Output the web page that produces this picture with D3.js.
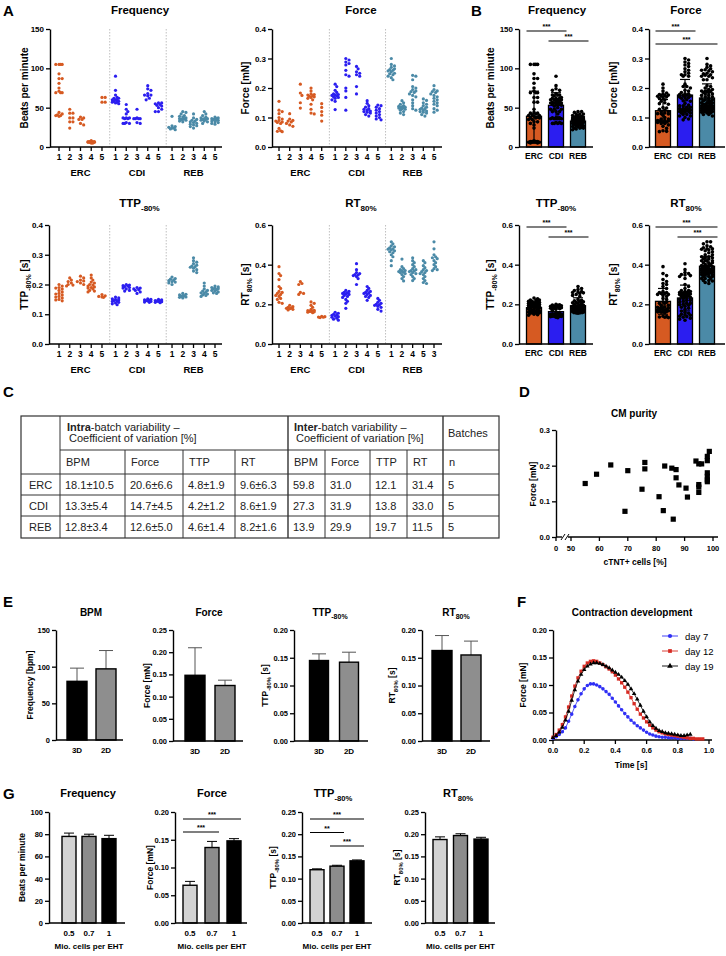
<!DOCTYPE html>
<html><head><meta charset="utf-8">
<script src="https://cdn.jsdelivr.net/npm/d3@7"></script>
<style>body{margin:0;background:#fff}svg{display:block}</style>
</head><body><svg id="c" width="726" height="956"></svg>
<script>
const FONT = '"Liberation Sans", Arial, Helvetica, sans-serif';

// ---------------- DATA ----------------
const groups = ["ERC", "CDI", "REB"];
const sampleLabels = [["1","2","3","4","5"],["1","2","3","4","5"],["1","2","3","4","5"]];
const rtSampleLabels = [["1","2","3","4","5"],["1","2","3","4","5"],["1","2","4","5","3"]];
const groupColors = ["#d65a22", "#2b1ef0", "#4b8aa7"];

// Panel A - per batch values
const freqERC = [[105,105,105,105,93,87,87,81,75,71,69,69,69,44,42,41,40,40,39],[48,43,43,37,37,32,32,24],[38,37,35,35,30,28],[8,7,7,7,6,6,6,6,5,5,6,7],[63,63,57,57]];
const freqCDI = [[90,72,66,63,62,60,60,58,58,57,57,56,55,60,62],[54,48,45,42,37,37,37,36,36,31,30,30,30],[48,37,36,36,36,36,31,30],[78,74,72,68,66,66,65,62,60],[56,56,55,54,53,52,50,48,45,45]];
const freqREB = [[39,27,26,25,24,24,23,22],[45,44,42,40,39,38,37,36,36,35,35,34,33,32],[42,37,35,34,33,32,31,30,29,28,27,26,24],[45,42,40,38,37,36,36,35,35,34,33,32,30],[38,37,36,36,35,35,34,34,33,32,31,30,29]];

const forceERC = [[0.155,0.125,0.12,0.113,0.10,0.095,0.09,0.088,0.085,0.083,0.08,0.063,0.055,0.053,0.052],[0.113,0.095,0.09,0.088,0.085,0.08,0.075,0.07],[0.213,0.183,0.175,0.15,0.132],[0.2,0.19,0.18,0.178,0.176,0.174,0.172,0.17,0.168,0.165,0.16,0.145,0.128,0.115,0.112],[0.147,0.134,0.12,0.108,0.088]];
const forceCDI = [[0.213,0.205,0.192,0.185,0.18,0.178,0.176,0.175,0.173,0.17,0.168,0.165,0.16,0.155,0.127],[0.3,0.295,0.288,0.283,0.278,0.26,0.245,0.24,0.2,0.19,0.168,0.125],[0.273,0.265,0.255,0.25,0.245,0.24,0.205,0.18],[0.157,0.148,0.14,0.135,0.13,0.128,0.125,0.122,0.12,0.118,0.115,0.11,0.105],[0.142,0.14,0.135,0.13,0.125,0.12,0.115,0.11,0.105,0.1,0.095,0.092]];
const forceREB = [[0.3,0.28,0.275,0.27,0.265,0.262,0.26,0.258,0.255,0.25,0.248,0.245,0.24,0.235,0.228],[0.157,0.15,0.145,0.14,0.138,0.136,0.135,0.134,0.133,0.132,0.13,0.128,0.125,0.12,0.115,0.11],[0.243,0.24,0.228,0.205,0.2,0.195,0.19,0.188,0.185,0.18,0.175,0.17,0.16,0.15,0.14,0.13,0.125],[0.163,0.158,0.15,0.145,0.14,0.135,0.132,0.13,0.128,0.125,0.122,0.12,0.118,0.115,0.11,0.105],[0.208,0.195,0.19,0.188,0.185,0.18,0.175,0.17,0.165,0.16,0.155,0.15,0.145,0.14,0.13,0.125,0.118]];

const ttpERC = [[0.2,0.195,0.19,0.188,0.185,0.18,0.175,0.17,0.168,0.165,0.16,0.158,0.155,0.15,0.148,0.145],[0.222,0.215,0.21,0.205,0.2,0.198,0.195],[0.228,0.222,0.215,0.212,0.21,0.205,0.2],[0.232,0.222,0.215,0.208,0.205,0.2,0.198,0.195,0.192,0.19,0.188,0.185,0.18,0.178,0.175],[0.166,0.162,0.16,0.158,0.157]];
const ttpCDI = [[0.158,0.155,0.152,0.15,0.148,0.146,0.145,0.143,0.14,0.138,0.135,0.132],[0.2,0.198,0.196,0.195,0.193,0.19,0.188,0.185,0.18,0.178],[0.19,0.188,0.185,0.183,0.18,0.175,0.17],[0.152,0.15,0.148,0.147,0.146,0.145,0.143,0.141,0.14],[0.15,0.148,0.146,0.145,0.144,0.143,0.142,0.14,0.139]];
const ttpREB = [[0.225,0.22,0.218,0.215,0.213,0.21,0.208,0.205,0.2],[0.17,0.167,0.165,0.163,0.162,0.16,0.158,0.157,0.155],[0.29,0.28,0.275,0.27,0.265,0.262,0.26,0.258,0.255,0.25,0.245,0.24],[0.205,0.195,0.185,0.18,0.178,0.175,0.172,0.17,0.168,0.165,0.163,0.16],[0.195,0.192,0.19,0.188,0.186,0.185,0.183,0.18,0.178,0.175,0.172,0.17]];

const rtERC = [[0.39,0.355,0.345,0.325,0.29,0.28,0.265,0.26,0.255,0.25,0.245,0.24,0.23,0.225,0.21,0.205],[0.195,0.188,0.185,0.182,0.18,0.178,0.175,0.172],[0.315,0.305,0.3,0.26,0.255,0.25],[0.212,0.205,0.195,0.185,0.175,0.17,0.168,0.166,0.165,0.164,0.162,0.16,0.158],[0.14,0.138,0.136,0.135,0.133]];
const rtCDI = [[0.16,0.155,0.15,0.148,0.145,0.14,0.138,0.135,0.13,0.125,0.12],[0.27,0.265,0.26,0.258,0.255,0.252,0.25,0.245,0.24,0.235,0.225,0.215,0.205,0.18],[0.405,0.375,0.36,0.355,0.35,0.348,0.345,0.34,0.33,0.3],[0.29,0.28,0.27,0.265,0.26,0.258,0.255,0.25,0.245,0.24,0.235,0.22],[0.23,0.22,0.21,0.205,0.2,0.198,0.195,0.19,0.185,0.175,0.166]];
const rtREB = [[0.515,0.505,0.495,0.49,0.485,0.48,0.478,0.475,0.47,0.465,0.46,0.45,0.44,0.42,0.395],[0.428,0.39,0.38,0.375,0.37,0.368,0.365,0.362,0.36,0.355,0.35,0.34,0.33,0.318],[0.435,0.42,0.41,0.4,0.39,0.38,0.375,0.37,0.368,0.365,0.36,0.355,0.35,0.34,0.33,0.32],[0.42,0.41,0.395,0.385,0.375,0.37,0.365,0.36,0.355,0.35,0.34,0.33,0.32,0.31,0.305],[0.515,0.48,0.45,0.44,0.435,0.43,0.42,0.41,0.4,0.39,0.38,0.375,0.37]];

// Panel B - group means and SD
const bFreqMean = [39, 53, 33],       bFreqSD = [32, 16, 5];
const bForceMean = [0.123, 0.176, 0.166], bForceSD = [0.038, 0.053, 0.048];
const bTtpMean = [0.183, 0.163, 0.193],   bTtpSD = [0.022, 0.022, 0.04];
const bRtMean = [0.215, 0.232, 0.392],    bRtSD = [0.065, 0.065, 0.05];
const sigFreq = [["ERC","CDI","***"],["CDI","REB","***"]];
const sigForce = [["ERC","CDI","***"],["ERC","REB","***"]];
const sigTtp = [["ERC","CDI","***"],["CDI","REB","***"]];
const sigRt = [["ERC","REB","***"],["CDI","REB","***"]];

// Panel C - table
const tableGroups = ["ERC","CDI","REB"];
const intraBPM = ["18.1±10.5","13.3±5.4","12.8±3.4"];
const intraForce = ["20.6±6.6","14.7±4.5","12.6±5.0"];
const intraTTP = ["4.8±1.9","4.2±1.2","4.6±1.4"];
const intraRT = ["9.6±6.3","8.6±1.9","8.2±1.6"];
const interBPM = ["59.8","27.3","13.9"];
const interForce = ["31.0","31.9","29.9"];
const interTTP = ["12.1","13.8","19.7"];
const interRT = ["31.4","33.0","11.5"];
const batchesN = ["5","5","5"];
const tableSubHeads = ["BPM","Force","TTP","RT","BPM","Force","TTP","RT","n"];

// Panel D - CM purity
const purityPct = [55,59,64,69,70,75,76,76,81,82.5,83,85.5,86,87,87,88,90.5,91,94,95,95,95,95,96,98,98,98.7,98,98,98,98];
const purityForce = [0.150,0.176,0.202,0.072,0.186,0.134,0.209,0.191,0.113,0.074,0.199,0.193,0.050,0.189,0.166,0.146,0.137,0.112,0.213,0.205,0.140,0.125,0.147,0.205,0.214,0.226,0.240,0.180,0.170,0.160,0.155];

// Panel E - 3D vs 2D
const eCats = ["3D","2D"];
const eBPM = [80, 97],        eBPMerr = [18, 25];
const eForce = [0.148, 0.125], eForceErr = [0.062, 0.012];
const eTTP = [0.145, 0.142],   eTTPerr = [0.012, 0.018];
const eRT = [0.163, 0.155],    eRTerr = [0.027, 0.025];

// Panel F - contraction development
const timeF = [0,0.02,0.04,0.06,0.08,0.10,0.12,0.14,0.16,0.18,0.20,0.22,0.24,0.26,0.28,0.30,0.32,0.34,0.36,0.38,0.40,0.42,0.44,0.46,0.48,0.50,0.52,0.54,0.56,0.58,0.60,0.62,0.64,0.66,0.68,0.70,0.72,0.74,0.76,0.78,0.80,0.82,0.84,0.86,0.88,0.90,0.92,0.94,0.96];
const day7 = [0.003,0.006,0.010,0.015,0.022,0.034,0.047,0.061,0.073,0.084,0.093,0.099,0.102,0.102,0.100,0.097,0.093,0.088,0.083,0.076,0.069,0.062,0.055,0.048,0.042,0.036,0.031,0.026,0.022,0.018,0.014,0.011,0.009,0.007,0.006,0.005,0.005,0.004,0.004,0.004,0.003,0.003,0.003,0.003,0.003,0.002];
const day12 = [0.005,0.010,0.018,0.028,0.042,0.060,0.080,0.098,0.113,0.125,0.134,0.140,0.143,0.144,0.143,0.140,0.137,0.133,0.129,0.124,0.118,0.111,0.104,0.096,0.087,0.077,0.066,0.056,0.047,0.040,0.033,0.027,0.022,0.018,0.015,0.013,0.011,0.010,0.009,0.008,0.007,0.006,0.005,0.004,0.003,0.003,0.002,0.002,0.002];
const day19 = [0.004,0.008,0.014,0.023,0.036,0.052,0.072,0.091,0.107,0.119,0.128,0.134,0.138,0.140,0.140,0.139,0.137,0.134,0.131,0.127,0.123,0.119,0.114,0.108,0.101,0.093,0.084,0.074,0.063,0.052,0.042,0.033,0.026,0.021,0.017,0.015,0.013,0.012,0.011,0.010,0.009,0.008,0.008,0.009,0.010];
const fSeriesNames = ["day 7","day 12","day 19"];

// Panel G - cell number
const gCats = ["0.5","0.7","1"];
const gFreq = [78, 78, 76],          gFreqErr = [3, 2, 3];
const gForce = [0.068, 0.136, 0.148], gForceErr = [0.007, 0.011, 0.004];
const gTTP = [0.120, 0.128, 0.140],   gTTPerr = [0.002, 0.002, 0.002];
const gRT = [0.188, 0.197, 0.189],    gRTerr = [0.006, 0.004, 0.004];
const sigGForce = [["0.5","1","***"],["0.5","0.7","***"]];
const sigGTTP = [["0.5","1","***"],["0.5","0.7","**"],["0.7","1","***"]];

// ---------------- HELPERS ----------------
const svg = d3.select('#c');
function txt(x, y, s, o = {}) {
  const t = svg.append('text').attr('x', x).attr('y', y).attr('font-family', FONT)
    .attr('font-size', o.fs || 9).attr('font-weight', o.fw || 'bold')
    .attr('text-anchor', o.anchor || 'middle').attr('fill', o.fill || '#000').text(s);
  if (o.rotate) t.attr('transform', `rotate(-90,${x},${y})`);
  return t;
}
function rich(x, y, parts, o = {}) {
  const fs = o.fs || 11;
  const t = svg.append('text').attr('x', x).attr('y', y).attr('font-family', FONT)
    .attr('font-weight', o.fw || 'bold').attr('font-size', fs)
    .attr('text-anchor', o.anchor || 'middle').attr('fill', '#000');
  if (o.rotate) t.attr('transform', `rotate(-90,${x},${y})`);
  let shifted = 0;
  parts.forEach(p => {
    const isSub = Array.isArray(p);
    const target = isSub ? fs * 0.32 : 0;
    t.append('tspan').attr('dy', target - shifted).attr('font-size', isSub ? fs * 0.7 : fs).text(isSub ? p[0] : p);
    shifted = target;
  });
  return t;
}
function line(x1, y1, x2, y2, o = {}) {
  return svg.append('line').attr('x1', x1).attr('y1', y1).attr('x2', x2).attr('y2', y2)
    .attr('stroke', o.stroke || '#000').attr('stroke-width', o.sw || 1.3)
    .attr('stroke-dasharray', o.dash || null);
}
function yAxis(x, scale, ticks, fmt, fs = 8) {
  const g = svg.append('g').attr('transform', `translate(${x},0)`)
    .call(d3.axisLeft(scale).tickValues(ticks).tickFormat(fmt).tickSize(4).tickSizeOuter(0).tickPadding(2));
  g.select('.domain').attr('stroke', '#000').attr('stroke-width', 1.4);
  g.selectAll('.tick line').attr('stroke', '#000').attr('stroke-width', 1.3);
  g.selectAll('.tick text').attr('font-family', FONT).attr('font-size', fs).attr('font-weight', 'bold').attr('fill', '#000');
  return g;
}
function swarm(vals, yScale, cx, r, maxOff, tol) {
  const pts = vals.map(v => ({ v, y: yScale(v) })).sort((a, b) => a.y - b.y);
  const placed = [];
  const step = r * 1.0;
  const offs = [0];
  for (let k = 1; k * step <= maxOff; k++) offs.push(k * step, -k * step);
  pts.forEach(p => {
    let best = 0, bestD = -1;
    for (const o of offs) {
      let minD = Infinity;
      for (const q of placed) {
        if (Math.abs(q.y - p.y) < 2 * r) {
          const d = Math.hypot(q.x - (cx + o), q.y - p.y);
          if (d < minD) minD = d;
        }
      }
      if (minD >= 2 * r * tol) { best = o; bestD = minD; break; }
      if (minD > bestD) { bestD = minD; best = o; }
    }
    p.x = cx + best; placed.push(p);
  });
  return pts;
}
function letter(x, y, s) { txt(x, y, s, { fs: 15, anchor: 'start' }); }

// ---------------- PANEL A ----------------
function panelA(c) {
  const y = d3.scaleLinear().domain([0, c.max]).range([c.yBot, c.yTop]);
  const sx = d3.scaleLinear().domain([0, 14.52]).range([c.s0, c.s1]);
  const pos = (g, i) => sx(g * 5.26 + i);
  [4.72, 9.98].forEach(s => line(sx(s), c.yTop, sx(s), c.yBot, { stroke: '#b0b0b0', sw: 0.8, dash: '1.5,1.5' }));
  yAxis(c.ax, y, c.ticks, c.fmt);
  line(c.ax, c.yBot, c.xEnd, c.yBot, { sw: 1.4 });
  groups.forEach((gn, gi) => {
    c.data[gi].forEach((vals, i) => {
      const cx = pos(gi, i);
      line(cx, c.yBot, cx, c.yBot + 4);
      txt(cx, c.yBot + 13, c.labels[gi][i], { fs: 8.5 });
      svg.append('g').selectAll('circle').data(swarm(vals, y, cx, 1.6, 4.2, 0.75)).join('circle')
        .attr('cx', d => d.x).attr('cy', d => d.y).attr('r', 1.6).attr('fill', groupColors[gi]);
    });
    txt(pos(gi, 2), c.yBot + 29, gn, { fs: 9.5 });
  });
  rich((c.ax + c.xEnd) / 2 + 4, c.titleY, c.title, { fs: 11.5 });
  rich(c.labX, (c.yTop + c.yBot) / 2, c.ylabel, { fs: 10, rotate: true });
}
letter(3, 16, "A");
panelA({ ax: 50, xEnd: 222, s0: 59, s1: 215, yTop: 29, yBot: 147, max: 150, ticks: [0, 50, 100, 150], fmt: d3.format('d'),
  data: [freqERC, freqCDI, freqREB], labels: sampleLabels, title: ["Frequency"], titleY: 14, ylabel: ["Beats per minute"], labX: 28 });
panelA({ ax: 272, xEnd: 442, s0: 279, s1: 434, yTop: 29, yBot: 147, max: 0.4, ticks: [0, 0.1, 0.2, 0.3, 0.4], fmt: d3.format('.1f'),
  data: [forceERC, forceCDI, forceREB], labels: sampleLabels, title: ["Force"], titleY: 14, ylabel: ["Force [mN]"], labX: 249 });
panelA({ ax: 49, xEnd: 222, s0: 59, s1: 215, yTop: 225, yBot: 344, max: 0.4, ticks: [0, 0.1, 0.2, 0.3, 0.4], fmt: d3.format('.1f'),
  data: [ttpERC, ttpCDI, ttpREB], labels: sampleLabels, title: ["TTP", ["-80%"]], titleY: 207, ylabel: ["TTP", ["-80%"], " [s]"], labX: 28 });
panelA({ ax: 272, xEnd: 442, s0: 279, s1: 434, yTop: 225, yBot: 344, max: 0.6, ticks: [0, 0.2, 0.4, 0.6], fmt: d3.format('.1f'),
  data: [rtERC, rtCDI, rtREB], labels: rtSampleLabels, title: ["RT", ["80%"]], titleY: 207, ylabel: ["RT", ["80%"], " [s]"], labX: 249 });

// ---------------- PANEL B ----------------
function panelB(c) {
  const y = d3.scaleLinear().domain([0, c.max]).range([c.yBot, c.yTop]);
  const xc = d3.scalePoint().domain(groups).range([c.c0, c.c1]);
  const bw = 15;
  groups.forEach((g, gi) => {
    const cx = xc(g);
    svg.append('rect').attr('x', cx - bw / 2).attr('y', y(c.mean[gi])).attr('width', bw)
      .attr('height', c.yBot - y(c.mean[gi])).attr('fill', groupColors[gi]).attr('stroke', '#000').attr('stroke-width', 1.3);
    const flat = c.data[gi].flat();
    svg.append('g').selectAll('circle').data(swarm(flat, y, cx, 1.8, 7, 0.8)).join('circle')
      .attr('cx', d => d.x).attr('cy', d => d.y).attr('r', 1.8).attr('fill', '#000');
    const lo = y(Math.max(0, c.mean[gi] - c.sd[gi])), hi = y(c.mean[gi] + c.sd[gi]);
    line(cx, lo, cx, hi, { sw: 1.2 });
    line(cx - 5, lo, cx + 5, lo, { sw: 1.2 });
    line(cx - 5, hi, cx + 5, hi, { sw: 1.2 });
    txt(cx, c.yBot + 12, g, { fs: 8.5 });
  });
  yAxis(c.ax, y, c.ticks, c.fmt);
  line(c.ax, c.yBot, c.xEnd, c.yBot, { sw: 1.4 });
  c.sig.forEach((s, k) => {
    const x1 = xc(s[0]) - bw / 2, x2 = xc(s[1]) + bw / 2 + 3;
    const ly = c.yTop + 2 + k * c.sigGap;
    line(x1, ly, x2, ly, { sw: 1.1 });
    txt((x1 + x2) / 2, ly - 2, s[2], { fs: 7 });
  });
  rich(c.titleX, c.titleY, c.title, { fs: 11.5 });
  rich(c.labX, (c.yTop + c.yBot) / 2, c.ylabel, { fs: 10, rotate: true });
}
letter(471, 16, "B");
panelB({ ax: 519, xEnd: 593, c0: 534, c1: 578, yTop: 29, yBot: 147, max: 150, ticks: [0, 50, 100, 150], fmt: d3.format('d'),
  data: [freqERC, freqCDI, freqREB], mean: bFreqMean, sd: bFreqSD, sig: sigFreq, sigGap: 10,
  title: ["Frequency"], titleX: 557, titleY: 14, ylabel: ["Beats per minute"], labX: 494 });
panelB({ ax: 649, xEnd: 725, c0: 663, c1: 707, yTop: 29, yBot: 147, max: 0.4, ticks: [0, 0.1, 0.2, 0.3, 0.4], fmt: d3.format('.1f'),
  data: [forceERC, forceCDI, forceREB], mean: bForceMean, sd: bForceSD, sig: sigForce, sigGap: 13,
  title: ["Force"], titleX: 686, titleY: 14, ylabel: ["Force [mN]"], labX: 617 });
panelB({ ax: 519, xEnd: 593, c0: 534, c1: 578, yTop: 225, yBot: 344, max: 0.6, ticks: [0, 0.2, 0.4, 0.6], fmt: d3.format('.1f'),
  data: [ttpERC, ttpCDI, ttpREB], mean: bTtpMean, sd: bTtpSD, sig: sigTtp, sigGap: 10,
  title: ["TTP", ["-80%"]], titleX: 556, titleY: 207, ylabel: ["TTP", ["-80%"], " [s]"], labX: 494 });
panelB({ ax: 649, xEnd: 725, c0: 663, c1: 707, yTop: 225, yBot: 344, max: 0.6, ticks: [0, 0.2, 0.4, 0.6], fmt: d3.format('.1f'),
  data: [rtERC, rtCDI, rtREB], mean: bRtMean, sd: bRtSD, sig: sigRt, sigGap: 10,
  title: ["RT", ["80%"]], titleX: 686, titleY: 207, ylabel: ["RT", ["80%"], " [s]"], labX: 617 });

// ---------------- PANEL C ----------------
letter(3, 397, "C");
(function () {
  const cols = [21, 60, 125, 183, 235, 288, 325, 370, 407, 443, 499];
  const rows = [416, 450, 474, 495, 516, 538];
  const tc = '#333';
  svg.append('rect').attr('x', cols[0]).attr('y', rows[0]).attr('width', cols[10] - cols[0]).attr('height', rows[5] - rows[0])
    .attr('fill', 'none').attr('stroke', tc).attr('stroke-width', 1.2);
  [1, 5, 9].forEach(i => line(cols[i], rows[0], cols[i], rows[5], { stroke: tc, sw: i === 1 ? 1 : 1.4 }));
  [2, 3, 4, 6, 7, 8].forEach(i => line(cols[i], rows[1], cols[i], rows[5], { stroke: tc, sw: 1 }));
  line(cols[1], rows[1], cols[10], rows[1], { stroke: tc, sw: 1 });
  [2, 3, 4].forEach(r => line(cols[0], rows[r], cols[10], rows[r], { stroke: tc, sw: 1 }));
  const tfs = 11;
  function head(x, bold, rest) {
    const t = svg.append('text').attr('x', x).attr('y', 430.5).attr('font-family', FONT).attr('font-size', tfs).attr('fill', '#222');
    t.append('tspan').attr('font-weight', 'bold').text(bold);
    t.append('tspan').text(rest);
    txt(x + 2, 442, "Coefficient of variation [%]", { fs: tfs, fw: 'normal', anchor: 'start', fill: '#222' });
  }
  head(cols[1] + 7, "Intra", "-batch variability –");
  head(cols[5] + 6, "Inter", "-batch variability –");
  txt(cols[9] + 5, 437, "Batches", { fs: tfs, fw: 'normal', anchor: 'start', fill: '#222' });
  tableSubHeads.forEach((h, i) => txt(cols[i + 1] + 6, 466, h, { fs: tfs, fw: 'normal', anchor: 'start', fill: '#222' }));
  const colsData = [intraBPM, intraForce, intraTTP, intraRT, interBPM, interForce, interTTP, interRT, batchesN];
  tableGroups.forEach((g, r) => {
    const by = (rows[r + 2] + rows[r + 3]) / 2 + 4;
    txt(cols[0] + 8, by, g, { fs: tfs, fw: 'normal', anchor: 'start', fill: '#222' });
    colsData.forEach((arr, i) => txt(cols[i + 1] + 5, by, arr[r], { fs: tfs, fw: 'normal', anchor: 'start', fill: '#222' }));
  });
})();

// ---------------- PANEL D ----------------
letter(519, 397, "D");
(function () {
  const x = d3.scaleLinear().domain([0, 50, 100]).range([556, 571, 713]);
  const y = d3.scaleLinear().domain([0, 0.3]).range([537, 430]);
  yAxis(556, y, [0, 0.1, 0.2, 0.3], d3.format('.1f'), 7.5);
  const y0 = 537;
  line(556, y0, 562, y0, { sw: 1.4 });
  line(561, y0 + 3, 565, y0 - 3, { sw: 1 });
  line(565, y0 + 3, 569, y0 - 3, { sw: 1 });
  line(568, y0, 718, y0, { sw: 1.4 });
  [0, 50, 60, 70, 80, 90, 100].forEach(v => {
    line(x(v), y0, x(v), y0 + 4);
    txt(x(v), y0 + 14, String(v), { fs: 7.5 });
  });
  svg.append('g').selectAll('rect').data(purityPct.map((p, i) => [p, purityForce[i]])).join('rect')
    .attr('x', d => x(d[0]) - 2.6).attr('y', d => y(d[1]) - 2.6).attr('width', 5.2).attr('height', 5.2).attr('fill', '#000');
  txt(634, 417, "CM purity", { fs: 10 });
  txt(635, 565, "cTNT+ cells [%]", { fs: 8.5 });
  txt(536, 484, "Force [mN]", { fs: 8.5, rotate: true });
})();

// ---------------- simple bar chart helper (E, G) ----------------
function bars(c) {
  const y = d3.scaleLinear().domain([0, c.max]).range([c.yBot, c.yTop]);
  const xc = d3.scalePoint().domain(c.cats).range([c.c0, c.c1]);
  c.cats.forEach((k, i) => {
    const cx = xc(k);
    const top = y(c.vals[i] + c.errs[i]);
    line(cx, y(c.vals[i]), cx, top, { sw: 1, stroke: c.errColor || '#000' });
    line(cx - c.cap / 2, top, cx + c.cap / 2, top, { sw: 1, stroke: c.errColor || '#000' });
    svg.append('rect').attr('x', cx - c.bw / 2).attr('y', y(c.vals[i])).attr('width', c.bw)
      .attr('height', c.yBot - y(c.vals[i])).attr('fill', c.fills[i]).attr('stroke', '#000').attr('stroke-width', 1.4);
    txt(cx, c.yBot + 13, k, { fs: 8 });
  });
  yAxis(c.ax, y, c.ticks, c.fmt, 7.5);
  line(c.ax, c.yBot, c.xEnd, c.yBot, { sw: 1.4 });
  (c.sig || []).forEach((s, k) => {
    const x1 = xc(s[0]) - c.bw / 2, x2 = xc(s[1]) + c.bw / 2;
    const ly = c.yTop + c.sigTop + k * c.sigGap;
    line(x1, ly, x2, ly, { sw: 1.1 });
    txt((x1 + x2) / 2, ly - 2, s[2], { fs: 7 });
  });
  rich(c.titleX, c.titleY, c.title, { fs: c.titleFs || 10 });
  rich(c.labX, (c.yTop + c.yBot) / 2, c.ylabel, { fs: 8.5, rotate: true });
  if (c.xlabel) txt((c.c0 + c.c1) / 2, c.yBot + 26, c.xlabel, { fs: 8 });
}
letter(3, 607, "E");
const eFills = ["#000", "#8e8e8e"];
bars({ ax: 56, xEnd: 123, c0: 77, c1: 106, bw: 20, cap: 14, yTop: 630, yBot: 740, max: 150, ticks: [0, 50, 100, 150], fmt: d3.format('d'),
  cats: eCats, vals: eBPM, errs: eBPMerr, fills: eFills, errColor: '#555', title: ["BPM"], titleX: 91, titleY: 616, ylabel: ["Frequency [bpm]"], labX: 33 });
bars({ ax: 173, xEnd: 243, c0: 195, c1: 225, bw: 20, cap: 14, yTop: 630, yBot: 741, max: 0.25, ticks: [0, 0.05, 0.1, 0.15, 0.2, 0.25], fmt: d3.format('.2f'),
  cats: eCats, vals: eForce, errs: eForceErr, fills: eFills, errColor: '#555', title: ["Force"], titleX: 209, titleY: 616, ylabel: ["Force [mN]"], labX: 150 });
bars({ ax: 294, xEnd: 368, c0: 319, c1: 349, bw: 19, cap: 14, yTop: 630, yBot: 741, max: 0.2, ticks: [0, 0.05, 0.1, 0.15, 0.2], fmt: d3.format('.2f'),
  cats: eCats, vals: eTTP, errs: eTTPerr, fills: eFills, errColor: '#555', title: ["TTP", ["-80%"]], titleX: 330, titleY: 616, ylabel: ["TTP", ["-80%"], " [s]"], labX: 268 });
bars({ ax: 422, xEnd: 490, c0: 442, c1: 471, bw: 20, cap: 14, yTop: 630, yBot: 741, max: 0.2, ticks: [0, 0.05, 0.1, 0.15, 0.2], fmt: d3.format('.2f'),
  cats: eCats, vals: eRT, errs: eRTerr, fills: eFills, errColor: '#555', title: ["RT", ["80%"]], titleX: 456, titleY: 616, ylabel: ["RT", ["80%"], " [s]"], labX: 395 });

// ---------------- PANEL F ----------------
letter(517, 607, "F");
(function () {
  const x = d3.scaleLinear().domain([0, 1]).range([553, 709]);
  const y = d3.scaleLinear().domain([0, 0.2]).range([740, 630]);
  yAxis(553, y, [0, 0.05, 0.1, 0.15, 0.2], d3.format('.2f'), 7.5);
  line(553, 740, 712, 740, { sw: 1.4 });
  [0, 0.2, 0.4, 0.6, 0.8, 1.0].forEach(v => { line(x(v), 740, x(v), 744); txt(x(v), 753, d3.format('.1f')(v), { fs: 7.5 }); });
  txt(631, 768, "Time [s]", { fs: 8.5 });
  txt(526, 685, "Force [mN]", { fs: 8.5, rotate: true });
  txt(632, 616, "Contraction development", { fs: 10 });
  const series = [day7, day12, day19];
  const cols = ["#2f2ff5", "#d62a22", "#000"];
  const sym = [d3.symbolCircle, d3.symbolSquare, d3.symbolTriangle];
  const sizes = [10, 11, 9];
  series.forEach((s, k) => {
    const pts = s.map((v, i) => [timeF[i], v]);
    svg.append('path').datum(pts).attr('d', d3.line().x(d => x(d[0])).y(d => y(d[1])))
      .attr('fill', 'none').attr('stroke', cols[k]).attr('stroke-width', 0.8);
    svg.append('g').selectAll('path').data(pts).join('path')
      .attr('transform', d => `translate(${x(d[0])},${y(d[1])})`)
      .attr('d', d3.symbol().type(sym[k]).size(sizes[k])).attr('fill', cols[k]);
  });
  fSeriesNames.forEach((n, k) => {
    const ly = 636 + k * 15;
    line(662, ly, 678, ly, { stroke: cols[k], sw: 0.9 });
    svg.append('path').attr('transform', `translate(670,${ly})`).attr('d', d3.symbol().type(sym[k]).size(14)).attr('fill', cols[k]);
    txt(685, ly + 3.5, n, { fs: 9.5, fw: 'normal', anchor: 'start' });
  });
})();

// ---------------- PANEL G ----------------
letter(3, 799, "G");
const gFills = ["#d3d3d3", "#8c8c8c", "#000"];
bars({ ax: 49, xEnd: 125, c0: 69, c1: 109, bw: 14, cap: 10, yTop: 812, yBot: 923, max: 100, ticks: [0, 20, 40, 60, 80, 100], fmt: d3.format('d'),
  cats: gCats, vals: gFreq, errs: gFreqErr, fills: gFills, title: ["Frequency"], titleFs: 11, titleX: 88, titleY: 797, ylabel: ["Beats per minute"], labX: 25, xlabel: "Mio. cells per EHT" });
bars({ ax: 175, xEnd: 247, c0: 190, c1: 234, bw: 14, cap: 10, yTop: 812, yBot: 923, max: 0.2, ticks: [0, 0.05, 0.1, 0.15, 0.2], fmt: d3.format('.2f'),
  cats: gCats, vals: gForce, errs: gForceErr, fills: gFills, sig: sigGForce, sigTop: 7, sigGap: 13,
  title: ["Force"], titleFs: 11, titleX: 212, titleY: 797, ylabel: ["Force [mN]"], labX: 153, xlabel: "Mio. cells per EHT" });
bars({ ax: 302, xEnd: 372, c0: 317, c1: 357, bw: 14, cap: 10, yTop: 812, yBot: 923, max: 0.25, ticks: [0, 0.05, 0.1, 0.15, 0.2, 0.25], fmt: d3.format('.2f'),
  cats: gCats, vals: gTTP, errs: gTTPerr, fills: gFills, sig: sigGTTP, sigTop: 7, sigGap: 13.5,
  title: ["TTP", ["-80%"]], titleFs: 11, titleX: 333, titleY: 797, ylabel: ["TTP", ["-80%"], " [s]"], labX: 276, xlabel: "Mio. cells per EHT" });
bars({ ax: 425, xEnd: 495, c0: 440, c1: 481, bw: 14, cap: 10, yTop: 812, yBot: 923, max: 0.25, ticks: [0, 0.05, 0.1, 0.15, 0.2, 0.25], fmt: d3.format('.2f'),
  cats: gCats, vals: gRT, errs: gRTerr, fills: gFills, title: ["RT", ["80%"]], titleFs: 11, titleX: 458, titleY: 797, ylabel: ["RT", ["80%"], " [s]"], labX: 400, xlabel: "Mio. cells per EHT" });
</script>
</body></html>
